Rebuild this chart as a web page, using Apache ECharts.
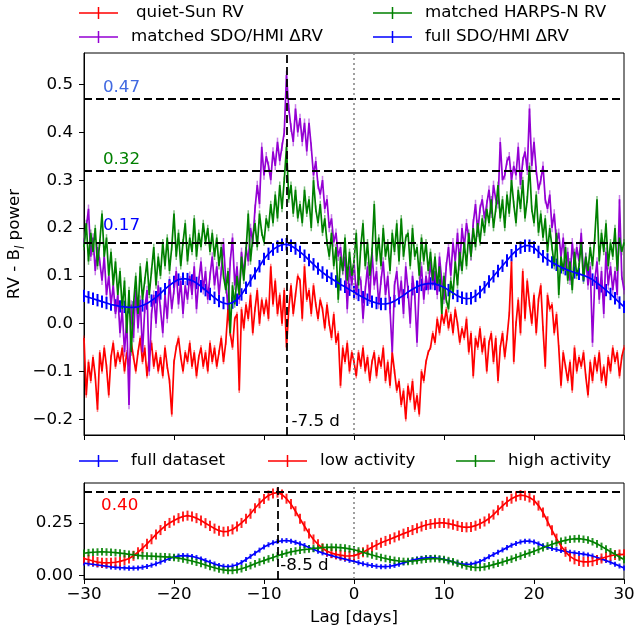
<!DOCTYPE html>
<html>
<head>
<meta charset="utf-8">
<title>RV - B_l cross-correlation power vs lag</title>
<script src="https://cdn.jsdelivr.net/npm/echarts@6/dist/echarts.min.js"></script>
<style>
  html, body { margin: 0; padding: 0; background: #fff; }
  #chart { width: 636px; height: 635px; }
</style>
</head>
<body>
<div id="chart"></div>
<script>
// ---- Lag grids (days) ----
const LAG_MIN = -30, LAG_MAX = 30;
const lagFine = Array.from({ length: 241 }, (_, i) => LAG_MIN + i * 0.25);   // noisy series
const lagCoarse = Array.from({ length: 121 }, (_, i) => LAG_MIN + i * 0.5);  // smooth series

// ---- Upper panel: RV - B_l power ----
const quietSunRV = [
  -0.03, -0.15, -0.08, -0.12, -0.07, -0.11, -0.18, -0.06,
  -0.10, -0.05, -0.09, -0.15, -0.07, -0.04, -0.09, -0.06,
  -0.08, -0.05, -0.10, -0.06, -0.09, -0.04, -0.07, -0.10,
  -0.06, -0.03, -0.08, -0.05, -0.11, -0.07, -0.04, -0.09,
  -0.06, -0.10, -0.07, -0.11, -0.05, -0.09, -0.12, -0.19,
  -0.08, -0.05, -0.03, -0.07, -0.10, -0.06, -0.08, -0.04,
  -0.09, -0.06, -0.11, -0.07, -0.05, -0.09, -0.06, -0.10,
  -0.04, -0.08, -0.05, -0.09, -0.06, -0.03, -0.08, -0.04,
   0.03, -0.02, -0.05,  0.01,  0.02, -0.14,  0.03, -0.01,
   0.04,  0.01,  0.06, -0.02,  0.03,  0.07,  0.00,  0.05,
   0.02,  0.05,  0.01,  0.12,  0.04,  0.09,  0.02,  0.06,
   0.00,  0.07, -0.05,  0.03,  0.08,  0.02,  0.06,  0.10,
   0.09,  0.01,  0.12,  0.05,  0.07,  0.02,  0.08,  0.04,
   0.01,  0.05,  0.03, -0.01,  0.04,  0.00, -0.03,  0.02,
  -0.04, -0.02, -0.13, -0.05, -0.08, -0.04, -0.10, -0.06,
  -0.08, -0.11, -0.06, -0.09, -0.05, -0.10, -0.07, -0.12,
  -0.08, -0.06, -0.11, -0.07, -0.09, -0.05, -0.12, -0.08,
  -0.13, -0.06, -0.10, -0.14, -0.12, -0.17, -0.14, -0.20,
  -0.13, -0.16, -0.12, -0.18, -0.15, -0.19, -0.10, -0.12,
  -0.08, -0.06, -0.05, -0.02, -0.04,  0.01, -0.02,  0.02,
   0.00,  0.03, -0.01,  0.02, -0.02,  0.03,  0.00, -0.04,
  -0.01, -0.03,  0.01, -0.06, -0.02, -0.11, -0.03, -0.05,
  -0.01, -0.06, -0.03, -0.10, -0.04, -0.02, -0.08, -0.03,
  -0.12, -0.05, -0.02, -0.07, -0.03,  0.02,  0.13, -0.08,
   0.00,  0.05, -0.02,  0.11,  0.01,  0.09,  0.04,  0.00,
   0.06, -0.02,  0.05,  0.08, -0.01, -0.09,  0.06,  0.03,
   0.04, -0.02,  0.02, -0.05, -0.13, -0.06, -0.09, -0.12,
  -0.08, -0.14, -0.05, -0.10, -0.07, -0.09, -0.06, -0.11,
  -0.15, -0.08, -0.12, -0.07, -0.10, -0.06, -0.12, -0.09,
  -0.13, -0.07, -0.10, -0.05, -0.08, -0.06, -0.11, -0.07,
  -0.05
];

const matchedHmiRV = [
   0.17,  0.20,  0.24,  0.14,  0.18,  0.11,  0.16,  0.13,
   0.09,  0.14,  0.06,  0.10,  0.04,  0.08,  0.02,  0.06,
  -0.02,  0.03, -0.06,  0.01, -0.17,  0.04, -0.03,  0.07,
  -0.01,  0.05, -0.06,  0.03,  0.07, -0.10,  0.02,  0.06,
   0.00,  0.08,  0.03, -0.02,  0.06,  0.01,  0.09,  0.03,
   0.07,  0.11,  0.04,  0.09,  0.02,  0.08,  0.05,  0.10,
   0.06,  0.12,  0.03,  0.09,  0.13,  0.07,  0.11,  0.05,
   0.10,  0.14,  0.08,  0.12,  0.06,  0.11,  0.17,  0.09,
   0.03,  0.13,  0.18,  0.08,  0.12,  0.05,  0.15,  0.10,
   0.16,  0.13,  0.20,  0.17,  0.24,  0.29,  0.25,  0.37,
   0.31,  0.35,  0.33,  0.30,  0.36,  0.33,  0.38,  0.34,
   0.37,  0.40,  0.52,  0.45,  0.41,  0.38,  0.45,  0.40,
   0.43,  0.38,  0.42,  0.36,  0.42,  0.37,  0.31,  0.34,
   0.29,  0.27,  0.30,  0.24,  0.26,  0.20,  0.22,  0.17,
   0.19,  0.14,  0.16,  0.11,  0.14,  0.03,  0.12,  0.08,
   0.13,  0.06,  0.10,  0.09,  0.01,  0.07,  0.12,  0.05,
   0.15,  0.08,  0.11,  0.04,  0.09,  0.13,  0.06,  0.10,
   0.03, -0.06,  0.08,  0.11,  0.05,  0.09,  0.02,  0.12,
   0.07,  0.00,  0.10,  0.06, -0.04,  0.08,  0.12,  0.05,
   0.10,  0.07,  0.13,  0.08,  0.11,  0.06,  0.14,  0.09,
   0.05,  0.12,  0.16,  0.10,  0.17,  0.13,  0.19,  0.12,
   0.20,  0.16,  0.21,  0.18,  0.14,  0.21,  0.25,  0.19,
   0.24,  0.26,  0.22,  0.25,  0.28,  0.23,  0.29,  0.26,
   0.25,  0.38,  0.30,  0.31,  0.34,  0.35,  0.30,  0.33,
   0.31,  0.37,  0.29,  0.34,  0.36,  0.32,  0.45,  0.33,
   0.38,  0.32,  0.28,  0.30,  0.33,  0.26,  0.24,  0.27,
   0.20,  0.23,  0.17,  0.19,  0.14,  0.18,  0.11,  0.15,
   0.09,  0.17,  0.12,  0.16,  0.13,  0.19,  0.10,  0.14,
   0.08,  0.12, -0.04,  0.09,  0.13,  0.05,  0.11,  0.02,
   0.15,  0.08,  0.12,  0.07,  0.11,  0.06,  0.26,  0.10,
   0.07
];

const matchedHarpsRV = [
   0.16,  0.21,  0.13,  0.19,  0.15,  0.20,  0.12,  0.17,
   0.23,  0.14,  0.18,  0.10,  0.15,  0.08,  0.13,  0.06,
   0.11,  0.03,  0.09, -0.02,  0.07, -0.06,  0.04,  0.10,
   0.02,  0.12,  0.05,  0.09,  0.13,  0.06,  0.11,  0.16,
   0.08,  0.14,  0.10,  0.17,  0.12,  0.18,  0.11,  0.16,
   0.23,  0.14,  0.19,  0.12,  0.17,  0.21,  0.13,  0.18,
   0.15,  0.22,  0.14,  0.19,  0.16,  0.21,  0.17,  0.20,
   0.15,  0.19,  0.14,  0.18,  0.12,  0.16,  0.10,  0.07,
   0.11, -0.02,  0.08,  0.04,  0.10,  0.06,  0.14,  0.09,
   0.15,  0.23,  0.13,  0.18,  0.21,  0.16,  0.23,  0.19,
   0.17,  0.22,  0.20,  0.25,  0.21,  0.27,  0.22,  0.29,
   0.24,  0.30,  0.37,  0.26,  0.29,  0.23,  0.28,  0.22,
   0.25,  0.21,  0.28,  0.23,  0.26,  0.20,  0.30,  0.24,
   0.21,  0.25,  0.19,  0.22,  0.17,  0.14,  0.19,  0.12,
   0.16,  0.05,  0.14,  0.11,  0.18,  0.09,  0.15,  0.10,
   0.13,  0.19,  0.08,  0.16,  0.21,  0.12,  0.17,  0.10,
   0.15,  0.25,  0.13,  0.18,  0.12,  0.20,  0.14,  0.17,
   0.11,  0.19,  0.15,  0.21,  0.13,  0.22,  0.14,  0.18,
   0.19,  0.12,  0.20,  0.14,  0.16,  0.10,  0.18,  0.13,
   0.17,  0.11,  0.15,  0.09,  0.14,  0.08,  0.12,  0.02,
   0.10,  0.05,  0.03,  0.09,  0.06,  0.13,  0.08,  0.15,
   0.11,  0.17,  0.12,  0.19,  0.14,  0.20,  0.16,  0.21,
   0.17,  0.22,  0.19,  0.24,  0.21,  0.26,  0.20,  0.24,
   0.29,  0.22,  0.26,  0.20,  0.27,  0.23,  0.30,  0.25,
   0.21,  0.28,  0.24,  0.30,  0.22,  0.26,  0.33,  0.24,
   0.21,  0.27,  0.19,  0.23,  0.18,  0.22,  0.15,  0.20,
   0.16,  0.12,  0.19,  0.06,  0.14,  0.11,  0.16,  0.09,
   0.13,  0.07,  0.15,  0.10,  0.12,  0.17,  0.09,  0.14,
   0.11,  0.16,  0.12,  0.18,  0.26,  0.13,  0.19,  0.15,
   0.21,  0.12,  0.17,  0.14,  0.20,  0.11,  0.18,  0.15,
   0.17
];

const fullHmiRV = [
  0.058, 0.055, 0.052, 0.049, 0.046, 0.043, 0.040, 0.038, 0.036, 0.035,
  0.034, 0.034, 0.035, 0.038, 0.042, 0.048, 0.055, 0.063, 0.072, 0.080,
  0.087, 0.092, 0.094, 0.093, 0.090, 0.085, 0.078, 0.070, 0.062, 0.054,
  0.047, 0.043, 0.041, 0.044, 0.050, 0.061, 0.075, 0.090, 0.105, 0.120,
  0.135, 0.146, 0.155, 0.161, 0.165, 0.166, 0.163, 0.157, 0.150, 0.142,
  0.133, 0.124, 0.115, 0.107, 0.100, 0.094, 0.088, 0.082, 0.077, 0.071,
  0.066, 0.060, 0.055, 0.050, 0.046, 0.043, 0.041, 0.041, 0.043, 0.047,
  0.053, 0.059, 0.066, 0.072, 0.077, 0.081, 0.083, 0.084, 0.083, 0.080,
  0.076, 0.070, 0.064, 0.058, 0.054, 0.052, 0.053, 0.058, 0.066, 0.076,
  0.088, 0.099, 0.110, 0.121, 0.132, 0.143, 0.152, 0.159, 0.163, 0.163,
  0.159, 0.150, 0.141, 0.134, 0.128, 0.123, 0.118, 0.114, 0.110, 0.107,
  0.104, 0.101, 0.097, 0.092, 0.085, 0.078, 0.070, 0.062, 0.053, 0.044,
  0.035
];

// one-sigma error bar half-heights
const quietSunErr = 0.005, matchedHmiErr = 0.009, matchedHarpsErr = 0.007, fullHmiErr = 0.013;

// levels marked with dashed lines
const hmiPeakLevel = 0.47, harpsPeakLevel = 0.32, fullPeakLevel = 0.17;
const upperPeakLag = -7.5;

// ---- Lower panel: activity split ----
const lowActivity = [
  0.080, 0.074, 0.068, 0.063, 0.060, 0.059, 0.060, 0.062, 0.066, 0.072,
  0.080, 0.093, 0.110, 0.129, 0.150, 0.172, 0.195, 0.216, 0.235, 0.250,
  0.262, 0.273, 0.281, 0.285, 0.281, 0.273, 0.262, 0.249, 0.236, 0.223,
  0.213, 0.208, 0.210, 0.219, 0.233, 0.250, 0.270, 0.294, 0.320, 0.344,
  0.365, 0.381, 0.391, 0.395, 0.386, 0.366, 0.340, 0.306, 0.270, 0.234,
  0.200, 0.171, 0.148, 0.129, 0.115, 0.106, 0.100, 0.096, 0.093, 0.092,
  0.094, 0.101, 0.110, 0.122, 0.134, 0.145, 0.155, 0.164, 0.172, 0.181,
  0.190, 0.199, 0.207, 0.216, 0.225, 0.233, 0.240, 0.245, 0.248, 0.250,
  0.250, 0.247, 0.242, 0.236, 0.231, 0.229, 0.231, 0.237, 0.246, 0.257,
  0.271, 0.290, 0.311, 0.332, 0.351, 0.366, 0.377, 0.383, 0.380, 0.372,
  0.358, 0.333, 0.300, 0.258, 0.215, 0.175, 0.140, 0.112, 0.090, 0.076,
  0.068, 0.064, 0.064, 0.067, 0.073, 0.080, 0.087, 0.093, 0.097, 0.099,
  0.100
];

const highActivity = [
  0.105, 0.108, 0.110, 0.111, 0.112, 0.111, 0.110, 0.108, 0.106, 0.103,
  0.100, 0.097, 0.095, 0.093, 0.092, 0.091, 0.090, 0.089, 0.088, 0.087,
  0.085, 0.082, 0.078, 0.073, 0.068, 0.062, 0.056, 0.049, 0.042, 0.036,
  0.030, 0.026, 0.023, 0.023, 0.026, 0.031, 0.038, 0.046, 0.055, 0.063,
  0.070, 0.078, 0.085, 0.093, 0.100, 0.106, 0.112, 0.116, 0.120, 0.123,
  0.125, 0.128, 0.130, 0.132, 0.133, 0.134, 0.133, 0.132, 0.130, 0.126,
  0.122, 0.116, 0.110, 0.103, 0.097, 0.091, 0.085, 0.080, 0.075, 0.071,
  0.068, 0.066, 0.066, 0.068, 0.070, 0.074, 0.077, 0.079, 0.080, 0.078,
  0.075, 0.070, 0.064, 0.057, 0.050, 0.044, 0.040, 0.037, 0.037, 0.040,
  0.045, 0.051, 0.057, 0.063, 0.070, 0.077, 0.085, 0.092, 0.100, 0.107,
  0.115, 0.123, 0.132, 0.140, 0.148, 0.155, 0.162, 0.167, 0.172, 0.174,
  0.175, 0.172, 0.168, 0.160, 0.150, 0.138, 0.125, 0.112, 0.100, 0.087,
  0.075
];

const fullDatasetErr = 0.012, lowActivityErr = 0.024, highActivityErr = 0.018;
const lowPeakLevel = 0.40;
const lowerPeakLag = -8.5;

// ---- Styling ----
const FONT = 'DejaVu Sans';
const FS = 16.7;
const C = { red: '#ff0000', purple: '#9400d3', green: '#008000', blue: '#0000ff', royal: '#4169e1' };
const CROSS = 'path://M0,5.25H39V6.75H0Z M18.75,0H20.25V12H18.75Z';

function pairs(xs, ys) { return xs.map((x, i) => [x, ys[i]]); }

function lineSeries(name, xs, ys, color, gi, extra) {
  return Object.assign({
    name, type: 'line', xAxisIndex: gi, yAxisIndex: gi,
    data: pairs(xs, ys), showSymbol: false, symbol: 'none',
    lineStyle: { color, width: 1.7 }, itemStyle: { color },
    emphasis: { disabled: true }, silent: true
  }, extra || {});
}

function errorSeries(xs, ys, err, color, gi, opacity, width) {
  return {
    type: 'custom', xAxisIndex: gi, yAxisIndex: gi, silent: true,
    data: xs.map((x, i) => [x, ys[i] - err, ys[i] + err]),
    encode: { x: 0, y: [1, 2] },
    renderItem: (params, api) => {
      const a = api.coord([api.value(0), api.value(1)]);
      const b = api.coord([api.value(0), api.value(2)]);
      return {
        type: 'line',
        shape: { x1: a[0], y1: a[1], x2: b[0], y2: b[1] },
        style: { stroke: color, lineWidth: width || 1.5, opacity }
      };
    }
  };
}

function textMarks(gi, items) {
  return {
    type: 'scatter', xAxisIndex: gi, yAxisIndex: gi, symbolSize: 0, silent: true, z: 10,
    itemStyle: { opacity: 1 },
    data: items.map(t => ({
      value: [t.x, t.y],
      label: { show: true, formatter: t.text, color: t.color, opacity: 1, position: [0, 0],
               align: 'left', verticalAlign: 'middle', fontSize: FS, fontFamily: FONT }
    }))
  };
}

const dash = (color) => ({ type: [8, 4], color: color || '#000', width: 1.8, opacity: 1 });
const dotted = { type: [2, 3], color: '#808080', width: 1.5, opacity: 1 };

function legendItem(name, left, top, pad) {
  return {
    data: [name], left, top, padding: 0, orient: 'horizontal',
    itemWidth: 39, itemHeight: 12, icon: CROSS,
    itemStyle: { borderWidth: 0 },
    textStyle: { fontSize: FS, fontFamily: FONT, color: '#000', lineHeight: 18, padding: [0, 0, 0, pad] }
  };
}

const tickStyle = { show: true, inside: false, length: 5, lineStyle: { color: '#000', width: 1 } };
const axisLineStyle = { show: true, onZero: false, lineStyle: { color: '#000', width: 1 } };
const fmt1 = v => (v < 0 ? '\u2212' : '') + Math.abs(v).toFixed(1);
const fmt2 = v => (v < 0 ? '\u2212' : '') + Math.abs(v).toFixed(2);

const upperTicks = [-0.2, -0.1, 0.0, 0.1, 0.2, 0.3, 0.4, 0.5];
const lowerTicks = [0.0, 0.25];

const gridBase = { left: 84, width: 540, show: true, borderColor: '#000', borderWidth: 1,
                   backgroundColor: 'transparent', containLabel: false, outerBoundsMode: 'none' };

const option = {
  animation: false,
  backgroundColor: '#ffffff',
  textStyle: { fontFamily: FONT },
  legend: [
    legendItem('quiet-Sun RV', 79, 4, 13),
    legendItem('matched SDO/HMI ΔRV', 79, 28, 8),
    legendItem('matched HARPS-N RV', 373, 4, 8),
    legendItem('full SDO/HMI ΔRV', 373, 28, 8),
    legendItem('full dataset', 79, 452, 8),
    legendItem('low activity', 268, 452, 8),
    legendItem('high activity', 456, 452, 8)
  ],
  grid: [
    Object.assign({ top: 53, height: 382 }, gridBase),
    Object.assign({ top: 483, height: 96 }, gridBase)
  ],
  xAxis: [
    { type: 'value', gridIndex: 0, min: LAG_MIN, max: LAG_MAX, interval: 10,
      axisLine: axisLineStyle, axisTick: tickStyle, axisLabel: { show: false }, splitLine: { show: false } },
    { type: 'value', gridIndex: 1, min: LAG_MIN, max: LAG_MAX, interval: 10,
      axisLine: axisLineStyle, axisTick: tickStyle,
      axisLabel: { color: '#000', fontSize: FS, fontFamily: FONT, margin: 7, formatter: v => (v < 0 ? '\u2212' : '') + Math.abs(v) },
      splitLine: { show: false },
      name: 'Lag [days]', nameLocation: 'middle', nameGap: 30, nameMoveOverlap: false,
      nameTextStyle: { color: '#000', fontSize: FS, fontFamily: FONT } }
  ],
  yAxis: [
    { type: 'value', gridIndex: 0, min: -0.233, max: 0.566,
      axisLine: axisLineStyle,
      axisTick: Object.assign({ customValues: upperTicks }, tickStyle),
      axisLabel: { customValues: upperTicks, color: '#000', fontSize: FS, fontFamily: FONT, margin: 11, formatter: fmt1 },
      splitLine: { show: false },
      name: 'RV - B{s|l} power', nameLocation: 'middle', nameGap: 57, nameRotate: 90, nameMoveOverlap: false,
      nameTextStyle: { color: '#000', fontSize: FS, fontFamily: FONT, lineHeight: 24,
        rich: { s: { fontSize: 12, fontStyle: 'italic', fontFamily: FONT, color: '#000', lineHeight: 14, verticalAlign: 'bottom' } } } },
    { type: 'value', gridIndex: 1, min: -0.018, max: 0.441,
      axisLine: axisLineStyle,
      axisTick: Object.assign({ customValues: lowerTicks }, tickStyle),
      axisLabel: { customValues: lowerTicks, color: '#000', fontSize: FS, fontFamily: FONT, margin: 11, formatter: fmt2 },
      splitLine: { show: false } }
  ],
  series: [
    // upper panel
    errorSeries(lagFine, quietSunRV, quietSunErr, C.red, 0, 0.5),
    lineSeries('quiet-Sun RV', lagFine, quietSunRV, C.red, 0),
    errorSeries(lagFine, matchedHmiRV, matchedHmiErr, C.purple, 0, 0.5),
    lineSeries('matched SDO/HMI ΔRV', lagFine, matchedHmiRV, C.purple, 0),
    errorSeries(lagFine, matchedHarpsRV, matchedHarpsErr, C.green, 0, 0.5),
    lineSeries('matched HARPS-N RV', lagFine, matchedHarpsRV, C.green, 0),
    errorSeries(lagCoarse, fullHmiRV, fullHmiErr, C.blue, 0, 1, 2),
    lineSeries('full SDO/HMI ΔRV', lagCoarse, fullHmiRV, C.blue, 0, {
      markLine: {
        silent: true, symbol: ['none', 'none'], label: { show: false }, animation: false,
        emphasis: { disabled: true },
        data: [
          { yAxis: hmiPeakLevel, lineStyle: dash() },
          { yAxis: harpsPeakLevel, lineStyle: dash() },
          { yAxis: fullPeakLevel, lineStyle: dash() },
          { xAxis: upperPeakLag, lineStyle: dash() },
          { xAxis: 0, lineStyle: dotted }
        ]
      }
    }),
    textMarks(0, [
      { x: -27.9, y: 0.494, text: hmiPeakLevel.toFixed(2), color: C.royal },
      { x: -27.9, y: 0.342, text: harpsPeakLevel.toFixed(2), color: C.green },
      { x: -27.9, y: 0.204, text: fullPeakLevel.toFixed(2), color: C.blue },
      { x: -6.95, y: -0.205, text: upperPeakLag.toFixed(1) + ' d', color: '#000' }
    ]),
    // lower panel
    errorSeries(lagCoarse, fullHmiRV, fullDatasetErr, C.blue, 1, 0.85, 2),
    lineSeries('full dataset', lagCoarse, fullHmiRV, C.blue, 1),
    errorSeries(lagCoarse, lowActivity, lowActivityErr, C.red, 1, 0.85, 2),
    lineSeries('low activity', lagCoarse, lowActivity, C.red, 1),
    errorSeries(lagCoarse, highActivity, highActivityErr, C.green, 1, 0.85, 2),
    lineSeries('high activity', lagCoarse, highActivity, C.green, 1, {
      markLine: {
        silent: true, symbol: ['none', 'none'], label: { show: false }, animation: false,
        emphasis: { disabled: true },
        data: [
          { yAxis: lowPeakLevel, lineStyle: dash() },
          { xAxis: lowerPeakLag, lineStyle: dash() },
          { xAxis: 0, lineStyle: dotted }
        ]
      }
    }),
    textMarks(1, [
      { x: -28.1, y: 0.335, text: lowPeakLevel.toFixed(2), color: C.red },
      { x: -8.2, y: 0.047, text: lowerPeakLag.toFixed(1) + ' d', color: '#000' }
    ])
  ]
};

const chart = echarts.init(document.getElementById('chart'), null, { renderer: 'canvas' });
chart.setOption(option);
</script>
</body>
</html>
